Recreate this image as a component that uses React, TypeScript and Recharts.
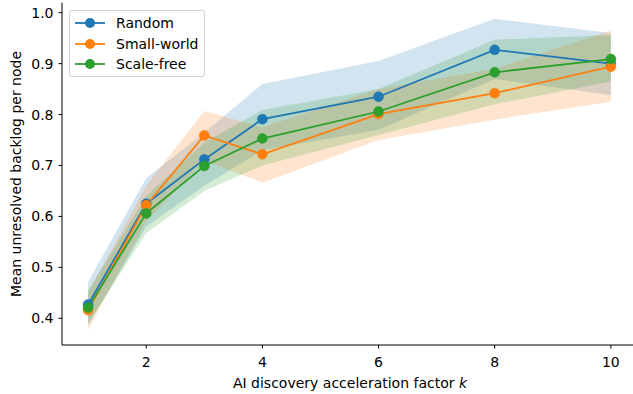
import React from 'react';
import { ComposedChart, Area, Line, XAxis, YAxis } from 'recharts';

// k values on the x axis
const ks = [1, 2, 3, 4, 6, 8, 10];

// mean backlog per topology
const randomMean = [0.427, 0.625, 0.712, 0.791, 0.835, 0.927, 0.9];
const smallWorldMean = [0.416, 0.622, 0.759, 0.722, 0.801, 0.842, 0.894];
const scaleFreeMean = [0.421, 0.606, 0.699, 0.753, 0.806, 0.883, 0.909];

// shaded band bounds
const randomLo = [0.386, 0.58, 0.66, 0.73, 0.77, 0.87, 0.838];
const randomHi = [0.472, 0.675, 0.765, 0.86, 0.905, 0.988, 0.96];
const smallWorldLo = [0.378, 0.59, 0.71, 0.666, 0.75, 0.79, 0.825];
const smallWorldHi = [0.45, 0.66, 0.807, 0.775, 0.85, 0.89, 0.965];
const scaleFreeLo = [0.39, 0.567, 0.65, 0.7, 0.76, 0.82, 0.865];
const scaleFreeHi = [0.455, 0.64, 0.745, 0.809, 0.85, 0.947, 0.956];

const xTicks = [2, 4, 6, 8, 10];
const yTicks = [0.4, 0.5, 0.6, 0.7, 0.8, 0.9, 1.0];

const series = [
  { key: 'random', name: 'Random', color: '#1f77b4' },
  { key: 'smallWorld', name: 'Small-world', color: '#ff7f0e' },
  { key: 'scaleFree', name: 'Scale-free', color: '#2ca02c' },
];

const data = ks.map((k, i) => ({
  k,
  random: randomMean[i],
  smallWorld: smallWorldMean[i],
  scaleFree: scaleFreeMean[i],
  randomBand: [randomLo[i], randomHi[i]],
  smallWorldBand: [smallWorldLo[i], smallWorldHi[i]],
  scaleFreeBand: [scaleFreeLo[i], scaleFreeHi[i]],
}));

const font = 'DejaVu Sans, sans-serif';
const tickStyle = { fontSize: 14, fill: '#000', fontFamily: font };

const XLabel = () => (
  <text x={350} y={387.5} textAnchor="middle" fontSize={14} fontFamily={font} fill="#000">
    AI discovery acceleration factor <tspan fontStyle="italic">k</tspan>
  </text>
);

const YLabel = () => (
  <text
    x={21}
    y={174}
    textAnchor="middle"
    transform="rotate(-90 21 174)"
    fontSize={14}
    fontFamily={font}
    fill="#000"
  >
    Mean unresolved backlog per node
  </text>
);

export default function App() {
  return (
    <div style={{ position: 'absolute', left: 0, top: 0, width: 633, height: 394, overflow: 'hidden', background: '#fff' }}>
      <ComposedChart width={640} height={394} data={data} margin={{ top: 2.5, right: 3, bottom: 0, left: 0 }}>
        <XAxis
          dataKey="k"
          type="number"
          domain={[0.55, 10.45]}
          ticks={xTicks}
          allowDataOverflow
          height={49}
          stroke="#000"
          tickSize={3.5}
          tickMargin={8.5}
          tick={tickStyle}
          label={<XLabel />}
        />
        <XAxis
          xAxisId="top"
          orientation="top"
          type="number"
          domain={[0.55, 10.45]}
          height={0}
          tick={false}
          tickLine={false}
          stroke="#000"
        />
        <YAxis
          type="number"
          domain={[0.3476, 1.02]}
          ticks={yTicks}
          allowDataOverflow
          width={62}
          stroke="#000"
          tickSize={3.5}
          tickMargin={5}
          tick={tickStyle}
          tickFormatter={(v: number) => v.toFixed(1)}
          label={<YLabel />}
        />
        {series.map((s) => (
          <Area
            key={s.key + 'Band'}
            type="linear"
            dataKey={s.key + 'Band'}
            stroke="none"
            fill={s.color}
            fillOpacity={0.2}
            isAnimationActive={false}
            activeDot={false}
          />
        ))}
        {series.map((s) => (
          <Line
            key={s.key}
            type="linear"
            dataKey={s.key}
            stroke={s.color}
            strokeWidth={1.8}
            dot={{ r: 5, fill: s.color, stroke: s.color, strokeWidth: 0.5 }}
            activeDot={false}
            isAnimationActive={false}
          />
        ))}
      </ComposedChart>
      <div
        style={{
          position: 'absolute',
          left: 69,
          top: 10,
          width: 136,
          height: 67,
          border: '1px solid #d0d0d0',
          borderRadius: 3,
          background: 'rgba(255,255,255,0.8)',
          boxSizing: 'border-box',
          fontFamily: font,
          fontSize: 14,
        }}
      >
        {series.map((s, i) => (
          <div key={s.key} style={{ position: 'absolute', left: 4, top: 4.3 + i * 20.5, height: 16, display: 'flex', alignItems: 'center' }}>
            <svg width={32} height={16}>
              <line x1={1} y1={8} x2={31} y2={8} stroke={s.color} strokeWidth={1.8} />
              <circle cx={16} cy={8} r={5} fill={s.color} />
            </svg>
            <span style={{ marginLeft: 10, color: '#000', lineHeight: '16px' }}>{s.name}</span>
          </div>
        ))}
      </div>
    </div>
  );
}
